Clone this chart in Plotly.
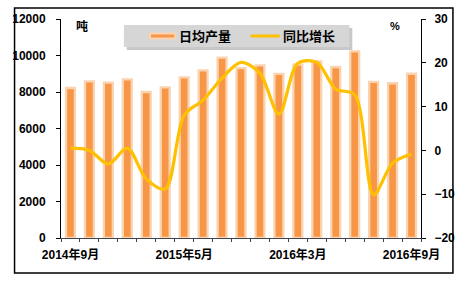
import plotly.graph_objects as go

# ---- data ----
tick_labels = ["2014年9月", "2015年5月", "2016年3月", "2016年9月"]
tick_index = [0, 6, 12, 18]
daily_output = [8220, 8580, 8510, 8690, 8000, 8250, 8800, 9180, 9880, 9310,
                9460, 8990, 9500, 9680, 9370, 10230, 8560, 8480, 9000]
yoy_growth = [0.5, 0.0, -3.1, 0.5, -6.5, -8.8, 8.0, 11.5, 16.5, 20.1,
              17.6, 8.3, 19.9, 20.1, 14.0, 12.7, -10.1, -2.9, -0.8]
series_names = ["日均产量", "同比增长"]
unit_left = "吨"
unit_right = "%"

x_idx = list(range(len(daily_output)))

W, H = 467, 281
L, R, T, B = 54, 426, 19, 238


def px(x):
    return (x - L) / (R - L)


def py(y):
    return (B - y) / (B - T)


FONT = "Liberation Sans, Arial, Noto Sans CJK SC"
ORANGE = "#F79646"
PEACH = "#FAD3B0"
YELLOW = "#FFC000"

fig = go.Figure()
fig.add_trace(go.Bar(
    x=x_idx, y=daily_output, width=0.47, name=series_names[0],
    marker=dict(color=ORANGE, line=dict(color=PEACH, width=2.3)),
    yaxis="y", showlegend=False,
))
fig.add_trace(go.Scatter(
    x=x_idx, y=yoy_growth, mode="lines", name=series_names[1],
    line=dict(color=YELLOW, width=3.2, shape="spline", smoothing=0.9),
    yaxis="y2", showlegend=False,
))

tickfont = dict(family=FONT, size=12, color="#000000", weight="bold")

shapes = [
    # outer border
    dict(type="rect", xref="paper", yref="paper",
         x0=px(6), x1=px(459), y0=py(273), y1=py(8),
         line=dict(color="#000000", width=1.5), layer="below"),
    # legend shadow
    dict(type="rect", xref="paper", yref="paper",
         x0=px(122), x1=px(355), y0=py(50), y1=py(28),
         fillcolor="#9a9a9a", opacity=0.55, line=dict(width=0)),
    # legend box
    dict(type="rect", xref="paper", yref="paper",
         x0=px(119), x1=px(352), y0=py(47), y1=py(25),
         fillcolor="#D6D6D6", line=dict(width=0)),
    # legend bar symbol
    dict(type="rect", xref="paper", yref="paper",
         x0=px(146), x1=px(172), y0=py(38.5), y1=py(33.5),
         fillcolor=ORANGE, line=dict(color=PEACH, width=2)),
    # legend line symbol
    dict(type="line", xref="paper", yref="paper",
         x0=px(250), x1=px(280), y0=py(36), y1=py(36),
         line=dict(color=YELLOW, width=3)),
]

annotations = [
    dict(text=series_names[0], xref="paper", yref="paper", x=px(174), y=py(36),
         xanchor="left", yanchor="middle", showarrow=False,
         font=dict(family=FONT, size=13, color="#000", weight="bold")),
    dict(text=series_names[1], xref="paper", yref="paper", x=px(281), y=py(36),
         xanchor="left", yanchor="middle", showarrow=False,
         font=dict(family=FONT, size=13, color="#000", weight="bold")),
    dict(text=unit_left, xref="paper", yref="paper", x=px(76), y=py(26),
         xanchor="center", yanchor="middle", showarrow=False,
         font=dict(family=FONT, size=12, color="#000", weight="bold")),
    dict(text=unit_right, xref="paper", yref="paper", x=px(399), y=py(26),
         xanchor="center", yanchor="middle", showarrow=False,
         font=dict(family=FONT, size=11, color="#000", weight="bold")),
]

fig.update_layout(
    width=W, height=H,
    margin=dict(l=L, r=W - R, t=T, b=H - B, pad=0),
    paper_bgcolor="#FFFFFF", plot_bgcolor="#FFFFFF",
    barmode="overlay",
    xaxis=dict(
        range=[-0.5, len(x_idx) - 0.5],
        tickmode="array", tickvals=tick_index, ticktext=tick_labels,
        ticks="", showgrid=False, zeroline=False,
        showline=True, linecolor="#3c4654", linewidth=1,
        tickfont=tickfont, ticklabelstandoff=6,
        minor=dict(tickmode="array",
                   tickvals=[i - 0.5 for i in range(len(x_idx) + 1)],
                   ticks="outside", ticklen=3, tickcolor="#3c4654",
                   tickwidth=1, showgrid=False),
    ),
    yaxis=dict(
        range=[0, 12000], dtick=2000, tick0=0, tickformat="d",
        ticks="outside", ticklen=4, tickcolor="#000",
        showline=True, linecolor="#000", linewidth=1,
        showgrid=False, zeroline=False,
        tickfont=tickfont, ticklabelstandoff=8,
    ),
    yaxis2=dict(
        range=[-20, 30], dtick=10, tick0=0, tickformat="d",
        overlaying="y", side="right",
        ticks="outside", ticklen=4, tickcolor="#000",
        showline=True, linecolor="#000", linewidth=1,
        showgrid=False, zeroline=False,
        tickfont=tickfont, ticklabelstandoff=6,
    ),
    shapes=shapes,
    annotations=annotations,
)

fig.write_html("out.html")
